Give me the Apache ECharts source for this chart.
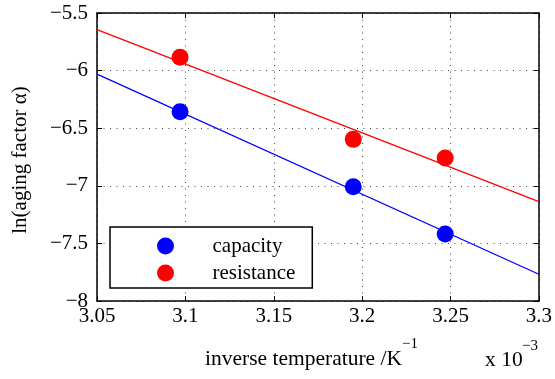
<!DOCTYPE html>
<html>
<head>
<meta charset="utf-8">
<script src="https://cdn.jsdelivr.net/npm/echarts@6/dist/echarts.min.js"></script>
<style>
html,body{margin:0;padding:0;background:#fff;}
#chart{width:555px;height:379px;}
</style>
</head>
<body>
<div id="chart"></div>
<script>
// Data (x in units of 1e-3 K^-1)
var xPoints = [3.097, 3.195, 3.247];
var capacity = [-6.357, -7.008, -7.418];
var resistance = [-5.885, -6.597, -6.759];
var fitX = [3.05, 3.3];
var capacityFit = [-6.03, -7.768];
var resistanceFit = [-5.645, -7.138];
var xTicks = [3.05, 3.1, 3.15, 3.2, 3.25, 3.3];
var yTicks = [-8, -7.5, -7, -6.5, -6, -5.5];
var seriesNames = ['capacity', 'resistance'];

var SERIF = '"Liberation Serif","Times New Roman",serif';
function pairs(xs, ys){ return xs.map(function(x,i){ return [x, ys[i]]; }); }
function fmtX(v){ return String(parseFloat(v.toFixed(2))); }
function fmtY(v){ return String(parseFloat(v.toFixed(2))).replace('-', '\u2212'); }

var gridLine = {show:true, lineStyle:{color:'#444', width:1, type:[1,5.5]}};
var chart = echarts.init(document.getElementById('chart'), null, {renderer:'canvas'});
chart.setOption({
  animation:false,
  backgroundColor:'#fff',
  grid:{left:97, right:14, top:13, bottom:78, containLabel:false},
  xAxis:[{
    type:'value', min:xTicks[0], max:xTicks[xTicks.length-1], interval:0.05,
    axisLine:{show:true, onZero:false, lineStyle:{color:'#000', width:1.5}},
    axisTick:{show:true, inside:true, length:5, lineStyle:{color:'#000', width:1}},
    axisLabel:{show:true, formatter:fmtX, color:'#000', fontFamily:SERIF, fontSize:21, margin:5},
    splitLine:gridLine
  },{
    type:'value', position:'top', min:xTicks[0], max:xTicks[xTicks.length-1], interval:0.05,
    axisLine:{show:true, onZero:false, lineStyle:{color:'#000', width:1.5}},
    axisTick:{show:true, inside:true, length:5, lineStyle:{color:'#000', width:1}},
    axisLabel:{show:false}, splitLine:{show:false}
  }],
  yAxis:[{
    type:'value', min:yTicks[0], max:yTicks[yTicks.length-1], interval:0.5,
    axisLine:{show:true, onZero:false, lineStyle:{color:'#000', width:1.5}},
    axisTick:{show:true, inside:true, length:5, lineStyle:{color:'#000', width:1}},
    axisLabel:{show:true, formatter:fmtY, color:'#000', fontFamily:SERIF, fontSize:21, margin:9, padding:[8,0,0,0]},
    splitLine:gridLine
  },{
    type:'value', position:'right', min:yTicks[0], max:yTicks[yTicks.length-1], interval:0.5,
    axisLine:{show:true, onZero:false, lineStyle:{color:'#000', width:1.5}},
    axisTick:{show:true, inside:true, length:5, lineStyle:{color:'#000', width:1}},
    axisLabel:{show:false}, splitLine:{show:false}
  }],
  legend:{
    data:seriesNames,
    orient:'vertical', left:110, top:227,
    padding:[8.5,17,4.5,47],
    itemWidth:84, itemHeight:17, itemGap:6,
    icon:'circle',
    borderColor:'#000', borderWidth:1.5, backgroundColor:'#fff',
    textStyle:{color:'#000', fontFamily:SERIF, fontSize:21, lineHeight:17}
  },
  series:[
    {name:'capacityFit', type:'line', data:pairs(fitX, capacityFit), showSymbol:false, symbol:'none',
     lineStyle:{color:'#0000ff', width:1.3}, z:2, silent:true},
    {name:'resistanceFit', type:'line', data:pairs(fitX, resistanceFit), showSymbol:false, symbol:'none',
     lineStyle:{color:'#ff0000', width:1.3}, z:2, silent:true},
    {name:seriesNames[0], type:'scatter', data:pairs(xPoints, capacity), symbol:'circle', symbolSize:17,
     itemStyle:{color:'#0000ff', opacity:1}, z:3},
    {name:seriesNames[1], type:'scatter', data:pairs(xPoints, resistance), symbol:'circle', symbolSize:17,
     itemStyle:{color:'#ff0000', opacity:1}, z:3}
  ],
  graphic:[
    {type:'text', left:205, top:348, style:{text:'inverse temperature /K', fontFamily:SERIF, fontSize:21.5, fill:'#000'}},
    {type:'text', left:402, top:337, style:{text:'\u22121', fontFamily:SERIF, fontSize:15, fill:'#000'}},
    {type:'text', left:485, top:349, style:{text:'x 10', fontFamily:SERIF, fontSize:21.5, fill:'#000'}},
    {type:'text', left:522, top:339, style:{text:'\u22123', fontFamily:SERIF, fontSize:15, fill:'#000'}},
    {type:'text', x:20, y:160, rotation:Math.PI/2,
     style:{text:'ln(aging factor \u03b1)', fontFamily:SERIF, fontSize:21, fill:'#000', align:'center', verticalAlign:'middle'}}
  ]
});
</script>
</body>
</html>
